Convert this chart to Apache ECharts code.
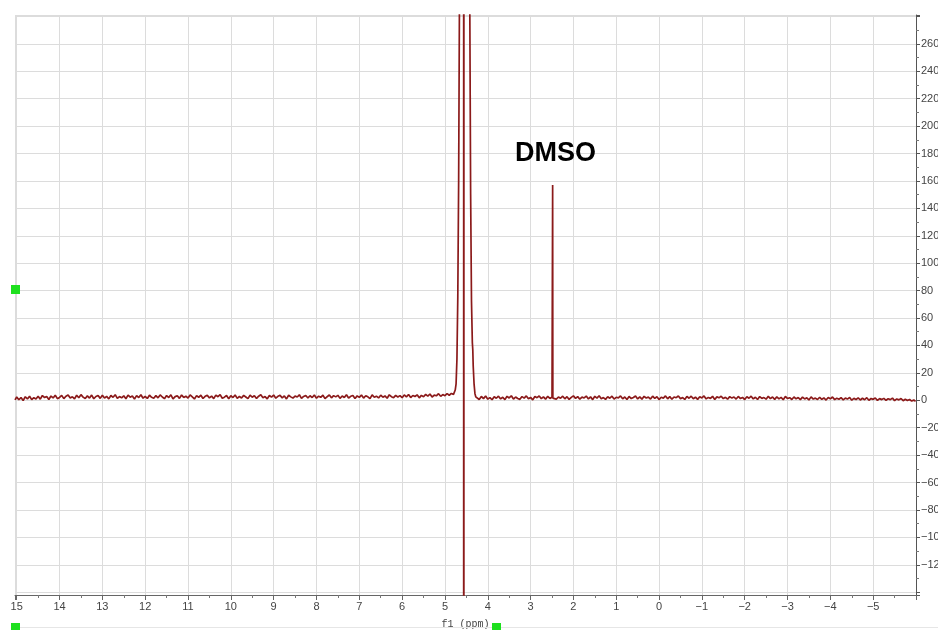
<!DOCTYPE html>
<html>
<head>
<meta charset="utf-8">
<script src="https://cdn.jsdelivr.net/npm/echarts@6/dist/echarts.min.js"></script>
<style>
html,body{margin:0;padding:0;background:#fff;}
#chart{width:938px;height:630px;}
</style>
</head>
<body>
<div id="chart"></div>
<script>
// Chemical shift (ppm) and intensity
const ppmLeft = [15.04,
15.00,14.95,14.90,14.85,14.80,14.75,14.70,14.65,14.60,14.55,
14.50,14.45,14.40,14.35,14.30,14.25,14.20,14.15,14.10,14.05,
14.00,13.95,13.90,13.85,13.80,13.75,13.70,13.65,13.60,13.55,
13.50,13.45,13.40,13.35,13.30,13.25,13.20,13.15,13.10,13.05,
13.00,12.95,12.90,12.85,12.80,12.75,12.70,12.65,12.60,12.55,
12.50,12.45,12.40,12.35,12.30,12.25,12.20,12.15,12.10,12.05,
12.00,11.95,11.90,11.85,11.80,11.75,11.70,11.65,11.60,11.55,
11.50,11.45,11.40,11.35,11.30,11.25,11.20,11.15,11.10,11.05,
11.00,10.95,10.90,10.85,10.80,10.75,10.70,10.65,10.60,10.55,
10.50,10.45,10.40,10.35,10.30,10.25,10.20,10.15,10.10,10.05,
10.00,9.95,9.90,9.85,9.80,9.75,9.70,9.65,9.60,9.55,
9.50,9.45,9.40,9.35,9.30,9.25,9.20,9.15,9.10,9.05,
9.00,8.95,8.90,8.85,8.80,8.75,8.70,8.65,8.60,8.55,
8.50,8.45,8.40,8.35,8.30,8.25,8.20,8.15,8.10,8.05,
8.00,7.95,7.90,7.85,7.80,7.75,7.70,7.65,7.60,7.55,
7.50,7.45,7.40,7.35,7.30,7.25,7.20,7.15,7.10,7.05,
7.00,6.95,6.90,6.85,6.80,6.75,6.70,6.65,6.60,6.55,
6.50,6.45,6.40,6.35,6.30,6.25,6.20,6.15,6.10,6.05,
6.00,5.95,5.90,5.85,5.80,5.75,5.70,5.65,5.60,5.55,
5.50,5.45,5.40,5.35,5.30,5.25,5.20,5.15,5.10,5.05,
5.00,4.95,4.90,4.85,4.80];
const intLeft = [0.3,
2.4,0.4,2.0,-0.2,2.6,1.0,3.0,0.5,1.9,1.0,
3.0,0.8,3.5,2.0,2.8,0.6,3.1,1.7,3.7,1.2,
2.1,3.6,1.2,3.0,3.9,1.7,2.6,1.0,3.7,1.9,
4.1,2.3,1.3,3.2,1.6,3.8,1.1,2.8,3.5,1.4,
3.7,1.6,2.9,1.0,3.5,2.2,4.1,1.4,2.7,1.8,
3.3,1.1,3.8,2.3,3.1,0.9,3.4,2.0,4.0,1.5,
2.9,1.3,3.7,2.2,1.5,3.4,1.8,3.9,2.4,1.2,
3.5,2.0,4.0,1.1,2.7,3.3,1.4,3.8,2.1,3.0,
1.6,3.9,2.5,1.0,3.4,2.2,3.7,1.3,2.9,3.6,
1.8,3.1,1.2,3.8,2.6,4.1,1.5,2.3,3.5,1.1,
3.3,2.0,3.9,1.4,2.8,1.7,3.6,2.4,1.2,3.8,
2.2,3.4,1.3,3.0,4.0,1.9,2.7,1.1,3.5,2.3,
3.8,1.5,2.9,3.6,1.8,3.2,1.0,3.7,2.5,1.6,
3.1,2.4,4.0,1.4,2.8,3.5,1.7,3.3,2.0,3.9,
1.5,3.0,2.2,3.7,1.2,2.6,3.9,1.8,3.4,2.5,
3.6,1.4,3.1,2.0,4.1,1.7,2.9,3.5,1.3,3.2,
2.1,3.8,1.6,3.3,2.5,1.2,3.9,2.2,3.0,1.7,
3.7,2.3,3.2,1.5,4.0,2.6,1.9,3.6,2.4,3.4,
1.9,3.9,2.5,4.2,2.0,3.5,2.8,4.0,1.8,3.6,
2.6,4.3,3.0,4.6,2.4,3.8,3.3,4.8,2.9,4.2,
3.4,4.9,3.7,5.0,4.3];

const ppmPeak = [4.78,4.76,4.74,4.72,4.70,4.68,4.66,4.64,4.61,4.58,4.565,4.56,4.555,4.53,4.50,4.46,4.42,4.40,4.38,4.36,4.35,4.34,4.32,4.30,4.28];
const intPeak = [5.5,7.5,12,30,75,160,300,600,1500,4000,6000,-6000,6000,4000,1500,600,290,150,72,42,37,25,12,5,2.5];

const ppmRight = [
4.25,4.20,4.15,4.10,4.05,4.00,3.95,3.90,3.85,3.80,
3.75,3.70,3.65,3.60,3.55,3.50,3.45,3.40,3.35,3.30,
3.25,3.20,3.15,3.10,3.05,3.00,2.95,2.90,2.85,2.80,
2.75,2.70,2.65,2.60,2.55,2.50,2.49,2.485,2.48,2.45,2.40,2.35,2.30,
2.25,2.20,2.15,2.10,2.05,2.00,1.95,1.90,1.85,1.80,
1.75,1.70,1.65,1.60,1.55,1.50,1.45,1.40,1.35,1.30,
1.25,1.20,1.15,1.10,1.05,1.00,0.95,0.90,0.85,0.80,
0.75,0.70,0.65,0.60,0.55,0.50,0.45,0.40,0.35,0.30,
0.25,0.20,0.15,0.10,0.05,0.00,-0.05,-0.10,-0.15,-0.20,
-0.25,-0.30,-0.35,-0.40,-0.45,-0.50,-0.55,-0.60,-0.65,-0.70,
-0.75,-0.80,-0.85,-0.90,-0.95,-1.00,-1.05,-1.10,-1.15,-1.20,
-1.25,-1.30,-1.35,-1.40,-1.45,-1.50,-1.55,-1.60,-1.65,-1.70,
-1.75,-1.80,-1.85,-1.90,-1.95,-2.00,-2.05,-2.10,-2.15,-2.20,
-2.25,-2.30,-2.35,-2.40,-2.45,-2.50,-2.55,-2.60,-2.65,-2.70,
-2.75,-2.80,-2.85,-2.90,-2.95,-3.00,-3.05,-3.10,-3.15,-3.20,
-3.25,-3.30,-3.35,-3.40,-3.45,-3.50,-3.55,-3.60,-3.65,-3.70,
-3.75,-3.80,-3.85,-3.90,-3.95,-4.00,-4.05,-4.10,-4.15,-4.20,
-4.25,-4.30,-4.35,-4.40,-4.45,-4.50,-4.55,-4.60,-4.65,-4.70,
-4.75,-4.80,-4.85,-4.90,-4.95,-5.00,-5.05,-5.10,-5.15,-5.20,
-5.25,-5.30,-5.35,-5.40,-5.45,-5.50,-5.55,-5.60,-5.65,-5.70,
-5.75,-5.80,-5.85,-5.90,-5.95,-5.99];
const intRight = [
2.3,0.6,2.8,1.2,3.1,0.8,2.0,0.4,2.6,1.5,
3.0,1.0,2.2,0.5,2.9,1.7,3.3,0.9,2.4,1.3,
0.7,2.7,1.6,3.2,1.1,2.1,0.3,2.8,1.9,3.1,
1.2,2.5,0.8,2.9,1.4,2.2,1.9,157,1.6,2.8,0.9,2.4,1.5,
3.0,1.1,2.6,0.6,2.1,3.2,1.4,2.7,0.8,2.3,
1.7,3.1,1.0,2.5,0.5,2.9,1.6,3.3,1.2,2.0,
0.7,2.6,1.5,3.0,0.9,2.2,1.8,3.2,1.1,2.4,
0.6,2.8,1.3,2.1,3.1,1.0,2.5,0.8,2.9,1.7,
2.3,0.9,3.0,1.4,2.6,0.5,2.2,1.6,3.2,1.1,
2.7,0.8,2.4,1.9,3.1,1.2,2.0,0.6,2.8,1.5,
3.0,1.1,2.3,0.7,2.6,1.7,3.2,1.0,2.1,1.4,
2.9,0.6,2.5,1.8,3.0,1.2,2.2,0.8,2.7,1.6,
2.4,0.9,2.8,1.3,2.1,0.5,2.6,1.5,3.0,1.0,
2.2,0.6,2.7,1.4,2.0,0.8,2.9,1.2,2.4,0.7,
2.5,1.0,2.1,0.4,2.8,1.3,1.9,0.6,2.4,1.1,
2.0,0.5,2.3,1.0,1.8,0.3,2.5,0.9,1.6,0.6,
2.2,0.7,1.7,0.2,2.0,1.1,2.4,0.5,1.5,0.8,
1.9,0.3,1.6,0.9,2.1,0.1,1.4,0.6,1.8,0.2,
1.5,0.4,1.9,0.0,1.3,0.7,1.7,-0.1,1.2,0.5,
1.4,0.0,1.1,0.5,1.6,-0.2,1.0,0.3,1.3,-0.3,
0.8,-0.2,0.6,-0.6,0.2,-0.8];

const xTickMin = -6, xTickMax = 15.04;
const yMin = -142, yMax = 281;
const axisTitle = 'f1 (ppm)';
const peakLabel = 'DMSO';

const data = [];
[[ppmLeft,intLeft],[ppmPeak,intPeak],[ppmRight,intRight]].forEach(([p,v]) => {
  p.forEach((x,i) => data.push([x, v[i]]));
});

const chart = echarts.init(document.getElementById('chart'), null, {renderer:'canvas'});
const labelFont = {fontFamily:'Liberation Sans', fontSize:11, color:'#444'};
chart.setOption({
  animation:false,
  backgroundColor:'#ffffff',
  grid:{left:15, right:22, top:15, bottom:35, containLabel:false, outerBoundsMode:'none'},
  xAxis:{
    type:'value', inverse:true, min:xTickMin, max:xTickMax, splitNumber:21,
    name:axisTitle, nameLocation:'middle', nameGap:24,
    nameTextStyle:{fontFamily:'Liberation Mono', fontSize:10, color:'#444'},
    axisLine:{show:true, onZero:false, lineStyle:{color:'#666', width:1}},
    axisTick:{show:true, length:5, lineStyle:{color:'#666'}},
    minorTick:{show:true, splitNumber:2, length:3, lineStyle:{color:'#777'}},
    axisLabel:Object.assign({margin:6, showMinLabel:false, showMaxLabel:false,
      formatter: v => (Math.abs(v - Math.round(v)) < 1e-6 ? String(Math.round(v)).replace('-', '\u2212') : '')}, labelFont),
    splitLine:{show:true, lineStyle:{color:'#dcdcdc', width:1}}
  },
  yAxis:{
    type:'value', position:'right', min:yMin, max:yMax, splitNumber:21,
    axisLine:{show:true, onZero:false, lineStyle:{color:'#555', width:1}},
    axisTick:{show:true, length:4, inside:false, lineStyle:{color:'#555'}},
    minorTick:{show:true, splitNumber:2, length:3, lineStyle:{color:'#777'}},
    axisLabel:Object.assign({margin:5,
      formatter: v => ((v % 20 !== 0 || v < -130 || v > 270) ? '' : String(v).replace('-', '\u2212'))}, labelFont),
    splitLine:{show:true, lineStyle:{color:'#dcdcdc', width:1}}
  },
  series:[{
    type:'line', data:data, showSymbol:false, symbol:'none', clip:true,
    lineStyle:{color:'#8b1a1a', width:1.7},
    emphasis:{disabled:true}
  }],
  graphic:[
    {type:'text', z:100, left:515, top:140, style:{text:peakLabel, font:'bold 27px "Liberation Sans"', fill:'#000'}},
    {type:'rect', z:100, shape:{x:11, y:285, width:9, height:9}, style:{fill:'#1ee01e'}},
    {type:'rect', z:100, shape:{x:11, y:623, width:9, height:7}, style:{fill:'#1ee01e'}},
    {type:'rect', z:100, shape:{x:492, y:623, width:9, height:7}, style:{fill:'#1ee01e'}},
    {type:'line', z:90, shape:{x1:16, y1:627.5, x2:938, y2:627.5}, style:{stroke:'#e6e6e6', lineWidth:1}}
  ]
});
</script>
</body>
</html>
